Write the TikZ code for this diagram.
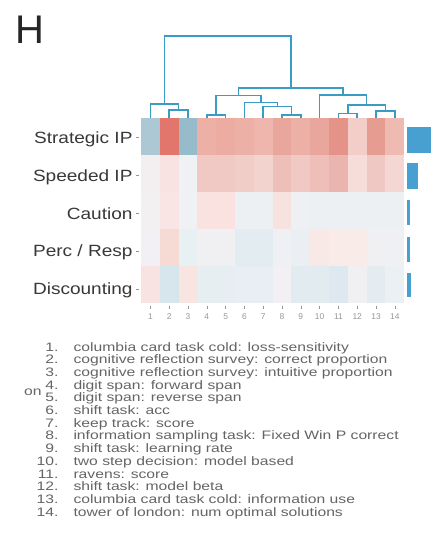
\documentclass[tikz,border=0pt]{standalone}
\usepackage{fontspec}
\setmainfont{Liberation Sans}
\newfontfamily\labelfont[FakeStretch=1.17]{Liberation Sans}
\newfontfamily\listfont[FakeStretch=1.28]{Liberation Sans}
\definecolor{dendroblue}{RGB}{58,155,196}
\definecolor{barblue}{RGB}{72,160,208}
\definecolor{listgray}{RGB}{100,100,100}
\definecolor{tickgray}{RGB}{150,150,150}

\tikzset{every picture/.style={line width=0.75pt}}
\tikzset{
  dendro/.style={draw=dendroblue, line width=1.1pt},
  factorbar/.style={fill=barblue},
  tickmark/.style={draw=tickgray, line width=0.4pt},
  rowlabel/.style={anchor=base east, inner sep=0pt, text=black!78, font=\labelfont\fontsize{12.2}{14}\selectfont},
  ticklabel/.style={inner sep=0pt, text=tickgray, font=\fontsize{6.3}{7}\selectfont},
  itemnum/.style={anchor=base east, inner sep=0pt, text=listgray, font=\listfont\fontsize{9.2}{10}\selectfont},
  itemtext/.style={anchor=base west, inner sep=0pt, text=listgray, font=\listfont\fontsize{9.2}{10}\selectfont},
}

\begin{document}
\begin{tikzpicture}[x=0.75pt,y=0.75pt,yscale=-1,xscale=1]
\useasboundingbox (0,0) rectangle (431,546);

% Panel letter
\draw (14.5,43) node [anchor=base west][inner sep=0pt][text=black!85] (panel) {\fontsize{30}{30}\selectfont H};

%Dendrogram
\draw [dendro] (169.2,118) |- (188,110) -- (188,118) ;
\draw [dendro] (150.4,118) |- (178.6,104) -- (178.6,110) ;
\draw [dendro] (206.8,118) |- (225.6,115) -- (225.6,118) ;
\draw [dendro] (282,118) |- (300.8,115) -- (300.8,118) ;
\draw [dendro] (263.2,118) |- (291.4,106.7) -- (291.4,115) ;
\draw [dendro] (244.4,118) |- (277.3,102.3) -- (277.3,106.7) ;
\draw [dendro] (216.2,115) |- (260.8,95.7) -- (260.8,102.3) ;
\draw [dendro] (338.4,118) |- (357.2,113.3) -- (357.2,118) ;
\draw [dendro] (376,118) |- (394.8,111) -- (394.8,118) ;
\draw [dendro] (347.8,113.3) |- (385.4,105) -- (385.4,111) ;
\draw [dendro] (319.6,118) |- (366.6,95) -- (366.6,105) ;
\draw [dendro] (238.5,95.7) |- (343.1,88) -- (343.1,95) ;
\draw [dendro] (164.5,104) |- (290.8,36) -- (290.8,88) ;

%Heatmap row: Strategic IP
\fill [color={rgb, 255:red, 172; green, 200; blue, 212 }] (141,118) rectangle (159.8,155) ;
\fill [color={rgb, 255:red, 226; green, 118; blue, 108 }] (159.8,118) rectangle (178.6,155) ;
\fill [color={rgb, 255:red, 150; green, 188; blue, 204 }] (178.6,118) rectangle (197.4,155) ;
\fill [color={rgb, 255:red, 236; green, 176; blue, 166 }] (197.4,118) rectangle (216.2,155) ;
\fill [color={rgb, 255:red, 236; green, 172; blue, 162 }] (216.2,118) rectangle (235,155) ;
\fill [color={rgb, 255:red, 236; green, 176; blue, 166 }] (235,118) rectangle (253.8,155) ;
\fill [color={rgb, 255:red, 238; green, 182; blue, 172 }] (253.8,118) rectangle (272.6,155) ;
\fill [color={rgb, 255:red, 233; green, 166; blue, 156 }] (272.6,118) rectangle (291.4,155) ;
\fill [color={rgb, 255:red, 236; green, 176; blue, 166 }] (291.4,118) rectangle (310.2,155) ;
\fill [color={rgb, 255:red, 233; green, 166; blue, 156 }] (310.2,118) rectangle (329,155) ;
\fill [color={rgb, 255:red, 229; green, 146; blue, 136 }] (329,118) rectangle (347.8,155) ;
\fill [color={rgb, 255:red, 243; green, 206; blue, 200 }] (347.8,118) rectangle (366.6,155) ;
\fill [color={rgb, 255:red, 231; green, 156; blue, 146 }] (366.6,118) rectangle (385.4,155) ;
\fill [color={rgb, 255:red, 239; green, 186; blue, 177 }] (385.4,118) rectangle (404.2,155) ;
%Heatmap row: Speeded IP
\fill [color={rgb, 255:red, 243; green, 239; blue, 241 }] (141,155) rectangle (159.8,192) ;
\fill [color={rgb, 255:red, 248; green, 226; blue, 226 }] (159.8,155) rectangle (178.6,192) ;
\fill [color={rgb, 255:red, 240; green, 241; blue, 245 }] (178.6,155) rectangle (197.4,192) ;
\fill [color={rgb, 255:red, 241; green, 201; blue, 196 }] (197.4,155) rectangle (216.2,192) ;
\fill [color={rgb, 255:red, 241; green, 201; blue, 196 }] (216.2,155) rectangle (235,192) ;
\fill [color={rgb, 255:red, 241; green, 205; blue, 200 }] (235,155) rectangle (253.8,192) ;
\fill [color={rgb, 255:red, 243; green, 211; blue, 206 }] (253.8,155) rectangle (272.6,192) ;
\fill [color={rgb, 255:red, 238; green, 191; blue, 185 }] (272.6,155) rectangle (291.4,192) ;
\fill [color={rgb, 255:red, 241; green, 201; blue, 196 }] (291.4,155) rectangle (310.2,192) ;
\fill [color={rgb, 255:red, 238; green, 191; blue, 185 }] (310.2,155) rectangle (329,192) ;
\fill [color={rgb, 255:red, 235; green, 181; blue, 175 }] (329,155) rectangle (347.8,192) ;
\fill [color={rgb, 255:red, 246; green, 221; blue, 218 }] (347.8,155) rectangle (366.6,192) ;
\fill [color={rgb, 255:red, 240; green, 200; blue, 195 }] (366.6,155) rectangle (385.4,192) ;
\fill [color={rgb, 255:red, 244; green, 215; blue, 210 }] (385.4,155) rectangle (404.2,192) ;
%Heatmap row: Caution
\fill [color={rgb, 255:red, 243; green, 240; blue, 242 }] (141,192) rectangle (159.8,229) ;
\fill [color={rgb, 255:red, 248; green, 229; blue, 228 }] (159.8,192) rectangle (178.6,229) ;
\fill [color={rgb, 255:red, 240; green, 241; blue, 245 }] (178.6,192) rectangle (197.4,229) ;
\fill [color={rgb, 255:red, 249; green, 226; blue, 223 }] (197.4,192) rectangle (216.2,229) ;
\fill [color={rgb, 255:red, 249; green, 226; blue, 223 }] (216.2,192) rectangle (235,229) ;
\fill [color={rgb, 255:red, 236; green, 240; blue, 243 }] (235,192) rectangle (253.8,229) ;
\fill [color={rgb, 255:red, 236; green, 240; blue, 243 }] (253.8,192) rectangle (272.6,229) ;
\fill [color={rgb, 255:red, 246; green, 226; blue, 223 }] (272.6,192) rectangle (291.4,229) ;
\fill [color={rgb, 255:red, 238; green, 240; blue, 243 }] (291.4,192) rectangle (310.2,229) ;
\fill [color={rgb, 255:red, 237; green, 240; blue, 243 }] (310.2,192) rectangle (404.2,229) ;
%Heatmap row: Perc / Resp
\fill [color={rgb, 255:red, 242; green, 240; blue, 245 }] (141,229) rectangle (159.8,266) ;
\fill [color={rgb, 255:red, 246; green, 218; blue, 212 }] (159.8,229) rectangle (178.6,266) ;
\fill [color={rgb, 255:red, 231; green, 240; blue, 243 }] (178.6,229) rectangle (197.4,266) ;
\fill [color={rgb, 255:red, 240; green, 240; blue, 243 }] (197.4,229) rectangle (216.2,266) ;
\fill [color={rgb, 255:red, 240; green, 240; blue, 243 }] (216.2,229) rectangle (235,266) ;
\fill [color={rgb, 255:red, 226; green, 236; blue, 241 }] (235,229) rectangle (253.8,266) ;
\fill [color={rgb, 255:red, 226; green, 236; blue, 241 }] (253.8,229) rectangle (272.6,266) ;
\fill [color={rgb, 255:red, 238; green, 240; blue, 243 }] (272.6,229) rectangle (291.4,266) ;
\fill [color={rgb, 255:red, 235; green, 239; blue, 243 }] (291.4,229) rectangle (310.2,266) ;
\fill [color={rgb, 255:red, 248; green, 232; blue, 230 }] (310.2,229) rectangle (329,266) ;
\fill [color={rgb, 255:red, 249; green, 236; blue, 232 }] (329,229) rectangle (347.8,266) ;
\fill [color={rgb, 255:red, 249; green, 236; blue, 232 }] (347.8,229) rectangle (366.6,266) ;
\fill [color={rgb, 255:red, 240; green, 240; blue, 243 }] (366.6,229) rectangle (385.4,266) ;
\fill [color={rgb, 255:red, 238; green, 240; blue, 243 }] (385.4,229) rectangle (404.2,266) ;
%Heatmap row: Discounting
\fill [color={rgb, 255:red, 248; green, 226; blue, 226 }] (141,266) rectangle (159.8,303) ;
\fill [color={rgb, 255:red, 214; green, 230; blue, 236 }] (159.8,266) rectangle (178.6,303) ;
\fill [color={rgb, 255:red, 248; green, 228; blue, 225 }] (178.6,266) rectangle (197.4,303) ;
\fill [color={rgb, 255:red, 230; green, 238; blue, 242 }] (197.4,266) rectangle (216.2,303) ;
\fill [color={rgb, 255:red, 230; green, 238; blue, 242 }] (216.2,266) rectangle (235,303) ;
\fill [color={rgb, 255:red, 232; green, 238; blue, 243 }] (235,266) rectangle (253.8,303) ;
\fill [color={rgb, 255:red, 232; green, 238; blue, 243 }] (253.8,266) rectangle (272.6,303) ;
\fill [color={rgb, 255:red, 242; green, 240; blue, 243 }] (272.6,266) rectangle (291.4,303) ;
\fill [color={rgb, 255:red, 225; green, 235; blue, 240 }] (291.4,266) rectangle (310.2,303) ;
\fill [color={rgb, 255:red, 225; green, 235; blue, 240 }] (310.2,266) rectangle (329,303) ;
\fill [color={rgb, 255:red, 222; green, 232; blue, 240 }] (329,266) rectangle (347.8,303) ;
\fill [color={rgb, 255:red, 240; green, 240; blue, 243 }] (347.8,266) rectangle (366.6,303) ;
\fill [color={rgb, 255:red, 228; green, 236; blue, 242 }] (366.6,266) rectangle (385.4,303) ;
\fill [color={rgb, 255:red, 235; green, 240; blue, 243 }] (385.4,266) rectangle (404.2,303) ;

%Factor bars
\fill [factorbar] (407,127) rectangle (431,153) ;
\fill [factorbar] (407,163) rectangle (418,189) ;
\fill [factorbar] (407,200) rectangle (409.5,225) ;
\fill [factorbar] (407,237) rectangle (409.5,262) ;
\fill [factorbar] (407,273) rectangle (411,297) ;

%Axis ticks
\draw [tickmark] (136,137.5) -- (139,137.5) (136,175.5) -- (139,175.5) (136,213.5) -- (139,213.5) (136,251) -- (139,251) (136,289) -- (139,289) ;
\draw [tickmark] (150.4,305.5) -- (150.4,308.5) (169.2,305.5) -- (169.2,308.5) (188,305.5) -- (188,308.5) (206.8,305.5) -- (206.8,308.5) (225.6,305.5) -- (225.6,308.5) (244.4,305.5) -- (244.4,308.5) (263.2,305.5) -- (263.2,308.5) ;
\draw [tickmark] (282,305.5) -- (282,308.5) (300.8,305.5) -- (300.8,308.5) (319.6,305.5) -- (319.6,308.5) (338.4,305.5) -- (338.4,308.5) (357.2,305.5) -- (357.2,308.5) (376,305.5) -- (376,308.5) (394.8,305.5) -- (394.8,308.5) ;

% Text Node
\draw (133,143.4) node [rowlabel] (strategic) {Strategic IP};
% Text Node
\draw (133,181.4) node [rowlabel] (speeded) {Speeded IP};
% Text Node
\draw (133,219.4) node [rowlabel] (caution) {Caution};
% Text Node
\draw (133,256.9) node [rowlabel] (percresp) {Perc / Resp};
% Text Node
\draw (133,294.9) node [rowlabel] (discounting) {Discounting};

% Text Node
\draw (150.4,317) node [ticklabel] (col1) {1};
\draw (169.2,317) node [ticklabel] (col2) {2};
\draw (188,317) node [ticklabel] (col3) {3};
\draw (206.8,317) node [ticklabel] (col4) {4};
\draw (225.6,317) node [ticklabel] (col5) {5};
\draw (244.4,317) node [ticklabel] (col6) {6};
\draw (263.2,317) node [ticklabel] (col7) {7};
\draw (282,317) node [ticklabel] (col8) {8};
\draw (300.8,317) node [ticklabel] (col9) {9};
\draw (319.6,317) node [ticklabel] (col10) {10};
\draw (338.4,317) node [ticklabel] (col11) {11};
\draw (357.2,317) node [ticklabel] (col12) {12};
\draw (376,317) node [ticklabel] (col13) {13};
\draw (394.8,317) node [ticklabel] (col14) {14};

% Text Node
\draw (42,395) node [itemnum] (cutword) {on};

% Text Node
\draw (59,351) node [itemnum] (num1) {1.};
\draw (73,351) node [itemtext] (task1) {columbia card task cold: loss-sensitivity};
\draw (59,363.7) node [itemnum] (num2) {2.};
\draw (73,363.7) node [itemtext] (task2) {cognitive reflection survey: correct proportion};
\draw (59,376.4) node [itemnum] (num3) {3.};
\draw (73,376.4) node [itemtext] (task3) {cognitive reflection survey: intuitive proportion};
\draw (59,389.1) node [itemnum] (num4) {4.};
\draw (73,389.1) node [itemtext] (task4) {digit span: forward span};
\draw (59,401.8) node [itemnum] (num5) {5.};
\draw (73,401.8) node [itemtext] (task5) {digit span: reverse span};
\draw (59,414.5) node [itemnum] (num6) {6.};
\draw (73,414.5) node [itemtext] (task6) {shift task: acc};
\draw (59,427.2) node [itemnum] (num7) {7.};
\draw (73,427.2) node [itemtext] (task7) {keep track: score};
\draw (59,439.9) node [itemnum] (num8) {8.};
\draw (73,439.9) node [itemtext] (task8) {information sampling task: Fixed Win P correct};
\draw (59,452.6) node [itemnum] (num9) {9.};
\draw (73,452.6) node [itemtext] (task9) {shift task: learning rate};
\draw (59,465.3) node [itemnum] (num10) {10.};
\draw (73,465.3) node [itemtext] (task10) {two step decision: model based};
\draw (59,478) node [itemnum] (num11) {11.};
\draw (73,478) node [itemtext] (task11) {ravens: score};
\draw (59,490.7) node [itemnum] (num12) {12.};
\draw (73,490.7) node [itemtext] (task12) {shift task: model beta};
\draw (59,503.4) node [itemnum] (num13) {13.};
\draw (73,503.4) node [itemtext] (task13) {columbia card task cold: information use};
\draw (59,516.1) node [itemnum] (num14) {14.};
\draw (73,516.1) node [itemtext] (task14) {tower of london: num optimal solutions};

\end{tikzpicture}
\end{document}
